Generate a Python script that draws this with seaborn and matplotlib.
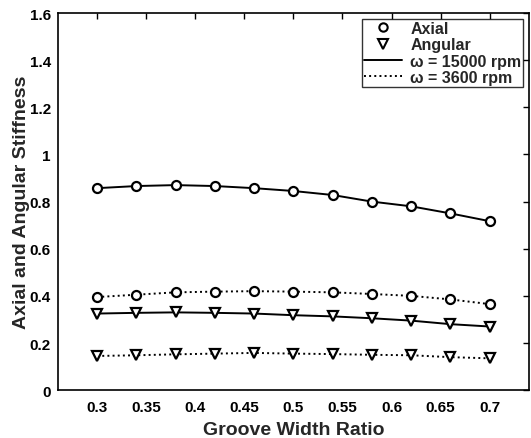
import matplotlib
matplotlib.use("Agg")
import matplotlib.pyplot as plt
import seaborn as sns
import pandas as pd
from matplotlib.lines import Line2D

groove_ratio = [0.30, 0.34, 0.38, 0.42, 0.46, 0.50, 0.54, 0.58, 0.62, 0.66, 0.70]
axial_15000 = [0.857, 0.866, 0.870, 0.866, 0.857, 0.845, 0.828, 0.800, 0.780, 0.750, 0.717]
axial_3600 = [0.395, 0.405, 0.415, 0.418, 0.420, 0.418, 0.415, 0.408, 0.400, 0.385, 0.365]
angular_15000 = [0.325, 0.328, 0.330, 0.328, 0.325, 0.318, 0.313, 0.305, 0.295, 0.280, 0.270]
angular_3600 = [0.145, 0.148, 0.152, 0.155, 0.158, 0.155, 0.153, 0.150, 0.148, 0.140, 0.135]

x_ticks = [0.3, 0.35, 0.4, 0.45, 0.5, 0.55, 0.6, 0.65, 0.7]
x_tick_labels = ["0.3", "0.35", "0.4", "0.45", "0.5", "0.55", "0.6", "0.65", "0.7"]
y_ticks = [0, 0.2, 0.4, 0.6, 0.8, 1.0, 1.2, 1.4, 1.6]
y_tick_labels = ["0", "0.2", "0.4", "0.6", "0.8", "1", "1.2", "1.4", "1.6"]

sns.set_theme(style="white")
plt.rcParams['font.family'] = ['Liberation Sans', 'DejaVu Sans']
plt.rcParams['font.weight'] = 'bold'

fig = plt.figure(figsize=(5.31, 4.39), dpi=100)
ax = fig.add_axes([0.109, 0.109, 0.887, 0.859])

series = [
    (axial_15000, "o", "-"),
    (axial_3600, "o", ":"),
    (angular_15000, "v", "-"),
    (angular_3600, "v", ":"),
]
for vals, mk, ls in series:
    df = pd.DataFrame({"x": groove_ratio, "y": vals})
    sns.lineplot(data=df, x="x", y="y", ax=ax, color="black", linestyle=ls,
                 linewidth=1.4, marker=mk, markersize=6.5 if mk == "o" else 7.5,
                 markerfacecolor="white", markeredgecolor="black",
                 markeredgewidth=1.6)

ax.set_xlim(0.26, 0.74)
ax.set_ylim(0, 1.6)
ax.set_xticks(x_ticks)
ax.set_xticklabels(x_tick_labels)
ax.set_yticks(y_ticks)
ax.set_yticklabels(y_tick_labels)
ax.tick_params(direction="in", length=4, width=1, top=True, right=True,
               labelsize=11, colors="black", pad=5)
ax.tick_params(axis="x", pad=7)
for lab in ax.get_xticklabels() + ax.get_yticklabels():
    lab.set_fontweight("bold")
for sp in ax.spines.values():
    sp.set_color("black")
    sp.set_linewidth(1.2)

ax.set_xlabel("Groove Width Ratio", fontsize=14, fontweight="bold", labelpad=5)
ax.set_ylabel("Axial and Angular Stiffness", fontsize=14, fontweight="bold", labelpad=-0.5)

handles = [
    Line2D([], [], linestyle="none", marker="o", markersize=6, markerfacecolor="white",
           markeredgecolor="black", markeredgewidth=1.5),
    Line2D([], [], linestyle="none", marker="v", markersize=7, markerfacecolor="white",
           markeredgecolor="black", markeredgewidth=1.5),
    Line2D([], [], color="black", linestyle="-", linewidth=1.4),
    Line2D([], [], color="black", linestyle=":", linewidth=1.4),
]
labels = ["Axial", "Angular", "\u03c9 = 15000 rpm", "\u03c9 = 3600 rpm"]
leg = ax.legend(handles, labels, loc="upper right", bbox_to_anchor=(0.988, 0.984),
                borderaxespad=0.0,
                frameon=True, fancybox=False, handlelength=2.4,
                borderpad=0.12, labelspacing=0.08, handletextpad=0.5,
                prop={"weight": "bold", "size": 11.5})
leg.get_frame().set_edgecolor("black")
leg.get_frame().set_linewidth(1.0)

fig.savefig("out.png", dpi=100)
